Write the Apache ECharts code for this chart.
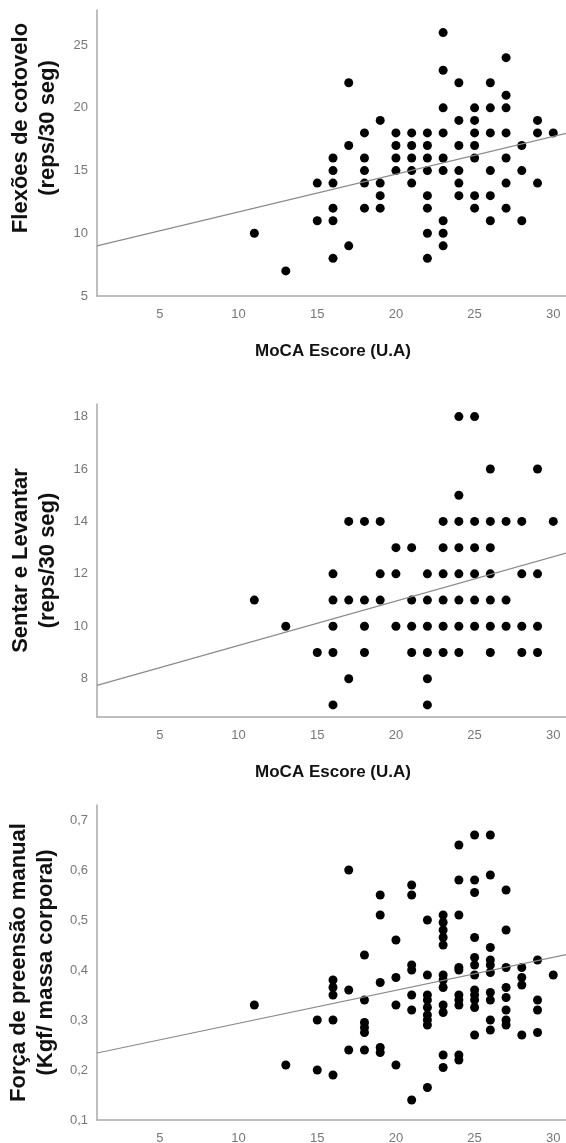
<!DOCTYPE html>
<html><head><meta charset="utf-8">
<script src="https://cdn.jsdelivr.net/npm/echarts@6/dist/echarts.min.js"></script>
<style>html,body{margin:0;padding:0;background:#fff}#c{width:566px;height:1143px}</style>
</head><body><div id="c"></div>
<script>
// ---- tick labels ----
const mocaTicks = [5, 10, 15, 20, 25, 30];
const flexTicks = [5, 10, 15, 20, 25];
const sentTicks = [8, 10, 12, 14, 16, 18];
const forcaTicks = [0.1, 0.2, 0.3, 0.4, 0.5, 0.6, 0.7];

// ---- panel 1: Flexões de cotovelo vs MoCA ----
const flexX = [23,27,17,23,24,26,27,23,25,26,27,19,24,25,29,
  18,20,21,22,23,25,26,27,29,30,
  17,20,21,22,24,25,28,
  16,18,20,21,22,23,25,27,
  16,18,20,21,22,23,24,26,28,
  15,16,18,19,21,24,27,29,
  19,22,24,25,26,
  16,18,19,22,25,27,
  15,16,23,26,28,
  11,22,23,
  17,23,
  16,22,
  13];
const flexY = [26,24,22,23,22,22,21,20,20,20,20,19,19,19,19,
  18,18,18,18,18,18,18,18,18,18,
  17,17,17,17,17,17,17,
  16,16,16,16,16,16,16,16,
  15,15,15,15,15,15,15,15,15,
  14,14,14,14,14,14,14,14,
  13,13,13,13,13,
  12,12,12,12,12,12,
  11,11,11,11,11,
  10,10,10,
  9,9,
  8,8,
  7];
const flexFit = { intercept: 8.70, slope: 0.301 };

// ---- panel 2: Sentar e Levantar vs MoCA ----
const sentX = [24,25,
  26,29,
  24,
  17,18,19,23,24,25,26,27,28,30,
  20,21,23,24,25,26,
  16,19,20,22,23,24,25,26,28,29,
  11,16,17,18,19,21,22,23,24,25,26,27,
  13,16,18,20,21,22,23,24,25,26,27,28,29,
  15,16,18,21,22,23,24,26,28,29,
  17,22,
  16,22];
const sentY = [18,18,
  16,16,
  15,
  14,14,14,14,14,14,14,14,14,14,
  13,13,13,13,13,13,
  12,12,12,12,12,12,12,12,12,12,
  11,11,11,11,11,11,11,11,11,11,11,11,
  10,10,10,10,10,10,10,10,10,10,10,10,10,
  9,9,9,9,9,9,9,9,9,9,
  8,8,
  7,7];
const sentFit = { intercept: 7.58, slope: 0.169 };

// ---- panel 3: Força de preensão manual vs MoCA ----
const forcaX = [11,13,15,15,16,16,16,16,16,17,17,17,18,18,18,18,18,18,
  19,19,19,19,19,20,20,20,20,21,21,21,21,21,21,21,
  22,22,22,22,22,22,22,22,22,
  23,23,23,23,23,23,23,23,23,23,23,23,
  24,24,24,24,24,24,24,24,24,24,
  25,25,25,25,25,25,25,25,25,25,25,25,
  26,26,26,26,26,26,26,26,26,26,
  27,27,27,27,27,27,27,27,
  28,28,28,28,
  29,29,29,29,
  30];
const forcaY = [0.33,0.21,0.30,0.20,0.38,0.365,0.35,0.30,0.19,0.60,0.36,0.24,0.43,0.34,0.295,0.285,0.275,0.24,
  0.55,0.51,0.375,0.245,0.235,0.46,0.385,0.33,0.21,0.57,0.55,0.41,0.40,0.35,0.32,0.14,
  0.50,0.39,0.35,0.34,0.325,0.31,0.30,0.29,0.165,
  0.51,0.495,0.48,0.465,0.45,0.39,0.38,0.365,0.33,0.315,0.23,0.205,
  0.65,0.58,0.51,0.405,0.40,0.35,0.34,0.33,0.23,0.22,
  0.67,0.58,0.555,0.465,0.425,0.41,0.39,0.36,0.35,0.34,0.325,0.27,
  0.67,0.59,0.445,0.42,0.41,0.395,0.355,0.34,0.30,0.28,
  0.56,0.48,0.405,0.365,0.345,0.32,0.30,0.29,
  0.405,0.385,0.37,0.27,
  0.42,0.34,0.32,0.275,
  0.39];
const forcaFit = { intercept: 0.2274, slope: 0.0066 };

const xMin = 1, xMax = 31;
const FONT = "'Liberation Sans', Arial, sans-serif";

function pairs(xs, ys) { return xs.map((x, i) => [x, ys[i]]); }
function fitLine(f) { return [[xMin, f.intercept + f.slope * xMin], [xMax, f.intercept + f.slope * xMax]]; }

const axisLine = { show: true, onZero: false, lineStyle: { color: '#a9a9a9', width: 1.5 } };
const labelBase = { color: '#777', fontSize: 13, fontFamily: FONT };
const xNameStyle = { fontWeight: 'bold', fontSize: 17, color: '#111', fontFamily: FONT };

function xAxis(gi, showName) {
  return {
    type: 'value', gridIndex: gi, min: xMin, max: xMax,
    name: showName ? 'MoCA Escore (U.A)' : '', nameLocation: 'middle', nameGap: 47,
    nameTextStyle: xNameStyle,
    axisLine: axisLine, axisTick: { show: false }, splitLine: { show: false },
    axisLabel: Object.assign({ customValues: mocaTicks, margin: 12 }, labelBase)
  };
}
function yAxis(gi, min, max, ticks, name, fmt, pad) {
  return {
    type: 'value', gridIndex: gi, min: min, max: max,
    name: name, nameLocation: 'middle', nameGap: 36,
    nameTextStyle: { fontWeight: 'bold', fontSize: 22, color: '#111', fontFamily: FONT, lineHeight: 27, padding: pad },
    axisLine: axisLine, axisTick: { show: false }, splitLine: { show: false },
    axisLabel: Object.assign({ customValues: ticks, margin: 9, formatter: fmt }, labelBase)
  };
}
function scatter(gi, data) {
  return { type: 'scatter', xAxisIndex: gi, yAxisIndex: gi, data: data, symbolSize: 9,
    itemStyle: { color: '#000', opacity: 1 }, z: 2, silent: true };
}
function line(gi, f) {
  return { type: 'line', xAxisIndex: gi, yAxisIndex: gi, data: fitLine(f), showSymbol: false,
    lineStyle: { color: '#8a8a8a', width: 1.2 }, z: 3, silent: true };
}

const chart = echarts.init(document.getElementById('c'), null, { renderer: 'canvas' });
chart.setOption({
  animation: false,
  backgroundColor: '#fff',
  grid: [
    { left: 97, top: 10, width: 472, height: 286, containLabel: false, outerBoundsMode: 'none' },
    { left: 97, top: 404, width: 472, height: 313, containLabel: false, outerBoundsMode: 'none' },
    { left: 97, top: 805, width: 472, height: 315, containLabel: false, outerBoundsMode: 'none' }
  ],
  xAxis: [xAxis(0, true), xAxis(1, true), xAxis(2, false)],
  yAxis: [
    yAxis(0, 5, 27.8, flexTicks, 'Flexões de cotovelo\n(reps/30 seg)', v => String(v), [0, 0, 0, 50]),
    yAxis(1, 6.54, 18.48, sentTicks, 'Sentar e Levantar\n(reps/30 seg)', v => String(v), [0, 0, 0, 0]),
    yAxis(2, 0.1, 0.73, forcaTicks, 'Força de preensão manual\n(Kgf/ massa corporal)', v => v.toFixed(1).replace('.', ','), [0, 0, 0, 0])
  ],
  series: [
    scatter(0, pairs(flexX, flexY)), line(0, flexFit),
    scatter(1, pairs(sentX, sentY)), line(1, sentFit),
    scatter(2, pairs(forcaX, forcaY)), line(2, forcaFit)
  ]
});
</script></body></html>
